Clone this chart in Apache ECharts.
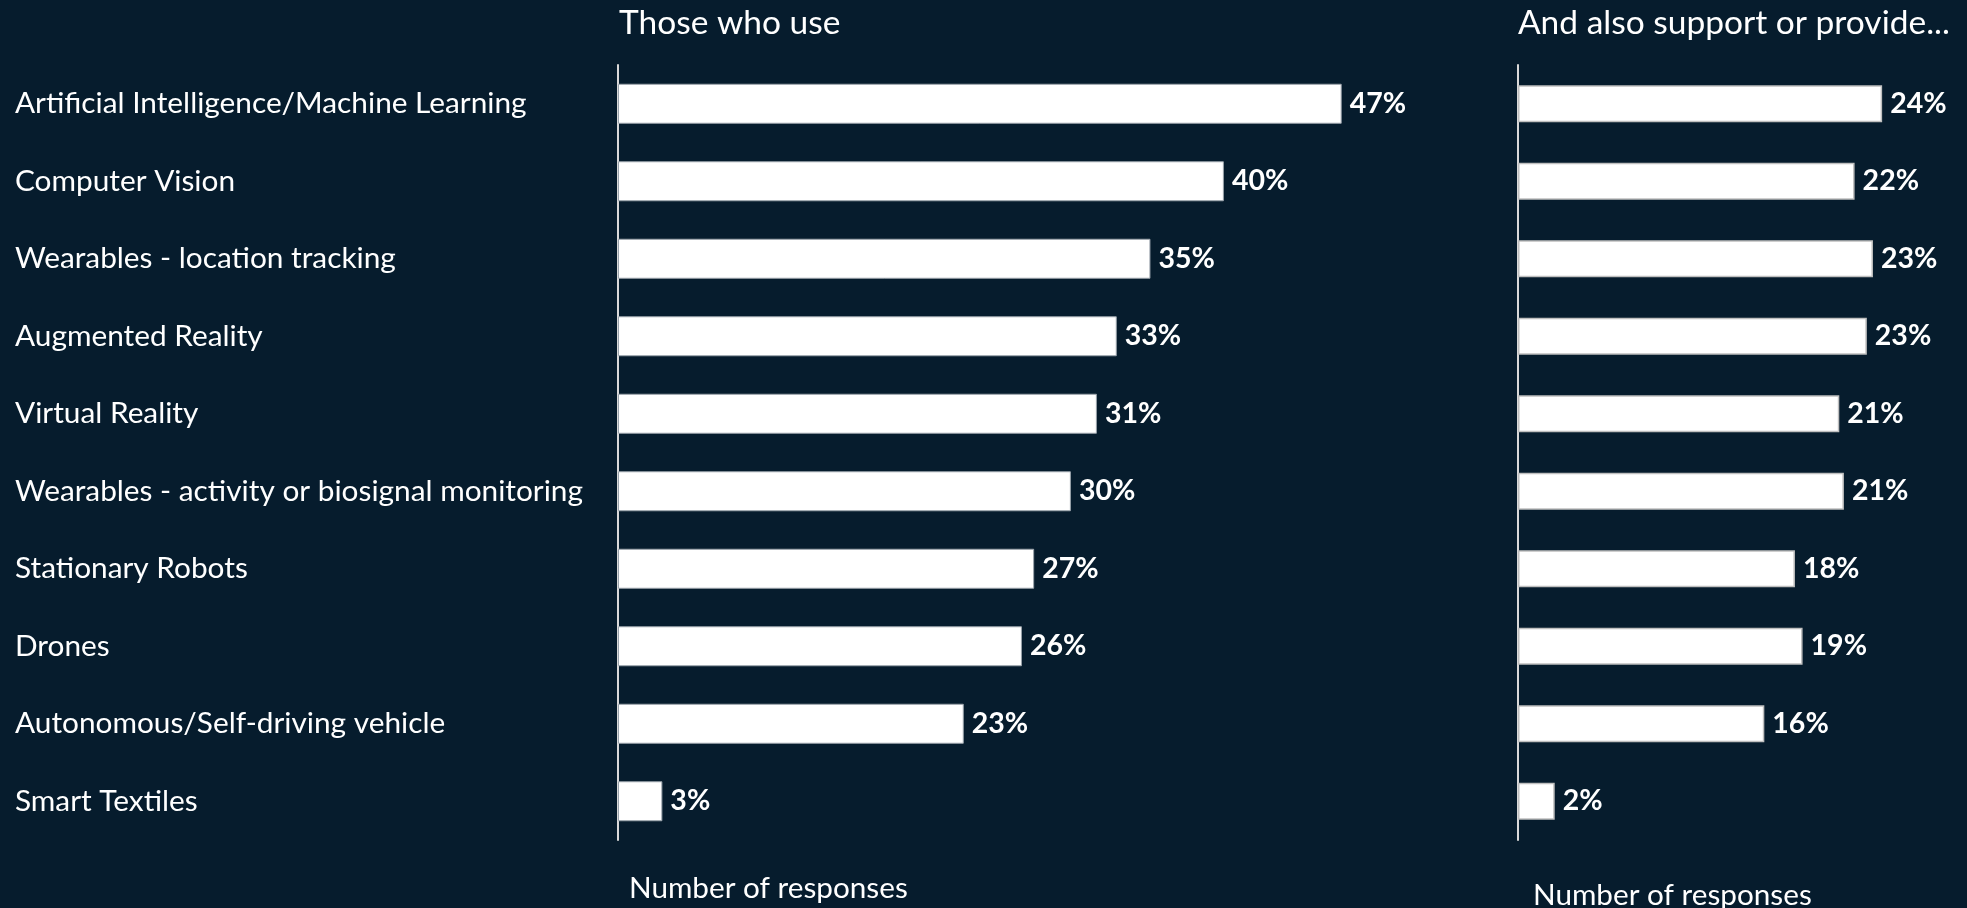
<!DOCTYPE html>
<html><head><meta charset="utf-8">
<script src="https://cdn.jsdelivr.net/npm/echarts@6/dist/echarts.min.js"></script>
<style>html,body{margin:0;padding:0;background:#061c2d;}#c{width:1967px;height:908px;}</style>
</head><body><div id="c"></div>
<script>
const categories = [
  'Artificial Intelligence/Machine Learning',
  'Computer Vision',
  'Wearables - location tracking',
  'Augmented Reality',
  'Virtual Reality',
  'Wearables - activity or biosignal monitoring',
  'Stationary Robots',
  'Drones',
  'Autonomous/Self-driving vehicle',
  'Smart Textiles'
];
const useValues = [47.3, 39.6, 34.8, 32.6, 31.3, 29.6, 27.2, 26.4, 22.6, 2.9];
const supportValues = [23.8, 22.0, 23.2, 22.8, 21.0, 21.3, 18.1, 18.6, 16.1, 2.4];
const panelTitles = ['Those who use', 'And also support or provide...'];
const axisNames = ['Number of responses', 'Number of responses'];

const FONT = 'Lato, "Open Sans", sans-serif';
const chart = echarts.init(document.getElementById('c'));
const labelCfg = {
  show: true, position: 'right', distance: 8,
  formatter: p => Math.round(p.value) + '%',
  color: '#ffffff', fontSize: 28.5, fontWeight: 'bold', fontFamily: FONT
};
const catAxis = (gi, showLabels) => ({
  type: 'category', gridIndex: gi, data: categories, inverse: true,
  axisLine: { show: true, lineStyle: { color: '#d9d9d9', width: 2 } },
  axisTick: { show: false },
  axisLabel: showLabels ? { show: true, align: 'left', margin: 603, color: '#ffffff', fontSize: 29.8, fontFamily: FONT, padding: [4, 0, 0, 0] } : { show: false }
});
chart.setOption({
  backgroundColor: '#061c2d',
  animation: false,
  title: [
    { text: panelTitles[0], left: 619, top: 6, padding: 0, textStyle: { color: '#fff', fontSize: 33.5, fontWeight: 'normal', fontFamily: FONT } },
    { text: panelTitles[1], left: 1518, top: 6, padding: 0, textStyle: { color: '#fff', fontSize: 33.5, fontWeight: 'normal', fontFamily: FONT } },
    { text: axisNames[0], left: 629, top: 873, padding: 0, textStyle: { color: '#fff', fontSize: 29.7, fontWeight: 'normal', fontFamily: FONT } },
    { text: axisNames[1], left: 1533, top: 880, padding: 0, textStyle: { color: '#fff', fontSize: 29.7, fontWeight: 'normal', fontFamily: FONT } }
  ],
  grid: [
    { left: 618, top: 65, width: 765, height: 775 },
    { left: 1518, top: 65, width: 382.5, height: 775 }
  ],
  xAxis: [
    { type: 'value', gridIndex: 0, min: 0, max: 50, show: false },
    { type: 'value', gridIndex: 1, min: 0, max: 25, show: false }
  ],
  yAxis: [catAxis(0, true), catAxis(1, false)],
  series: [
    { type: 'bar', xAxisIndex: 0, yAxisIndex: 0, data: useValues, barWidth: 40,
      itemStyle: { color: '#ffffff', borderColor: '#9aa3ab', borderWidth: 1 }, label: labelCfg },
    { type: 'bar', xAxisIndex: 1, yAxisIndex: 1, data: supportValues, barWidth: 37,
      itemStyle: { color: '#ffffff', borderColor: '#bfbfbf', borderWidth: 1.5 }, label: labelCfg }
  ]
});
</script></body></html>
